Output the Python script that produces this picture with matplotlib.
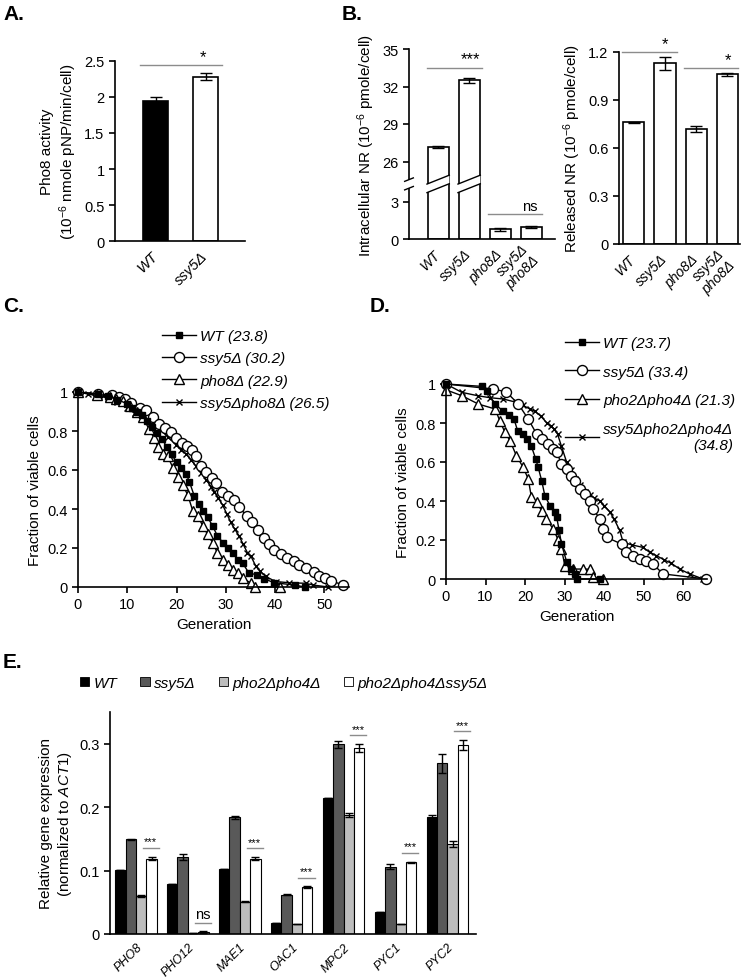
import numpy as np
import matplotlib
matplotlib.use("Agg")
import matplotlib.pyplot as plt
from matplotlib.patches import Patch, Polygon

plt.rcParams['font.family'] = ['Liberation Sans', 'DejaVu Sans']
plt.rcParams['mathtext.fontset'] = 'custom'
plt.rcParams['mathtext.rm'] = 'Liberation Sans'
plt.rcParams['mathtext.it'] = 'Liberation Sans:italic'
plt.rcParams['mathtext.bf'] = 'Liberation Sans:bold'
plt.rcParams['font.size'] = 10
plt.rcParams['axes.linewidth'] = 1.2
plt.rcParams['xtick.major.width'] = 1.2
plt.rcParams['ytick.major.width'] = 1.2
plt.rcParams['xtick.major.size'] = 4
plt.rcParams['ytick.major.size'] = 4

W, H = 745, 978

# ---- A: Pho8 activity ----
a_strains = ['WT', 'ssy5Δ']
a_activity = [1.95, 2.28]
a_err = [0.05, 0.05]

# ---- B: NR levels ----
b_strains = ['WT', 'ssy5Δ', 'pho8Δ', 'ssy5Δ\npho8Δ']
b_intra = [27.2, 32.5, 0.8, 0.95]
b_intra_err = [0.08, 0.2, 0.12, 0.06]
b_released = [0.76, 1.13, 0.72, 1.06]
b_released_err = [0.005, 0.04, 0.02, 0.01]

# ---- C: lifespan ----
c_labels = ['WT (23.8)', 'ssy5Δ (30.2)', 'pho8Δ (22.9)', 'ssy5Δpho8Δ (26.5)']
c_wt_gen = [0, 4, 6, 8, 10, 11, 12, 13, 14, 15, 16, 17, 18, 19, 20, 21, 22, 22.6, 23.6, 24.5,
            25.3, 26.3, 27.3, 28.3, 29.4, 30.4, 31.4, 32.4, 33.4, 34.7, 36.4, 37.8, 39.8, 44, 46]
c_wt_frac = [1.0, 0.99, 0.98, 0.96, 0.94, 0.92, 0.9, 0.88, 0.85, 0.82, 0.79, 0.76, 0.72, 0.68,
             0.64, 0.61, 0.578, 0.54, 0.467, 0.427, 0.392, 0.358, 0.314, 0.262, 0.228, 0.2,
             0.175, 0.14, 0.123, 0.071, 0.0625, 0.042, 0.022, 0.01, 0.0]
c_ssy5_gen = [0, 4, 6.8, 8.3, 9.5, 10.8, 12.5, 13.9, 15.2, 16.4, 17.7, 18.9, 19.9, 21.1, 22.2,
              23.1, 24.0, 25.0, 26.0, 27.1, 28.0, 29.2, 30.4, 31.7, 32.7, 34.2, 35.4, 36.6, 37.8,
              38.8, 39.8, 41.1, 42.5, 43.8, 44.8, 46.2, 47.9, 49.0, 50.1, 51.4, 53.7]
c_ssy5_frac = [1.0, 0.99, 0.985, 0.975, 0.965, 0.944, 0.92, 0.908, 0.87, 0.835, 0.814, 0.795,
               0.766, 0.736, 0.722, 0.705, 0.67, 0.618, 0.589, 0.557, 0.531, 0.488, 0.467, 0.444,
               0.41, 0.366, 0.332, 0.293, 0.25, 0.22, 0.1875, 0.167, 0.149, 0.132, 0.115, 0.097,
               0.075, 0.057, 0.045, 0.033, 0.01]
c_pho8_gen = [0, 3.8, 6.5, 7.8, 9.2, 10.5, 11.9, 13.2, 14.4, 15.4, 16.2, 17.2, 18.2, 19.3, 20.3,
              21.3, 22.3, 23.3, 24.3, 25.3, 26.3, 27.3, 28.3, 29.4, 30.4, 31.4, 32.4, 33.4, 35.1,
              36, 41]
c_pho8_frac = [1.0, 0.983, 0.974, 0.964, 0.953, 0.93, 0.896, 0.87, 0.81, 0.766, 0.72, 0.68, 0.67,
               0.61, 0.566, 0.522, 0.47, 0.39, 0.366, 0.314, 0.27, 0.228, 0.175, 0.14, 0.115,
               0.089, 0.071, 0.045, 0.02, 0.0, 0.0]
c_dbl_gen = [0, 2, 4, 6, 8, 10, 11.5, 13.2, 15, 16.6, 18.2, 19.9, 21, 22, 23, 24, 25, 26, 27, 27.7,
             28.5, 29.4, 30.2, 31, 31.8, 32.7, 33.5, 34.4, 35.1, 36.1, 37, 38.1, 40.1, 42.8, 46.2,
             47.7, 50.8]
c_dbl_frac = [1.0, 0.99, 0.98, 0.97, 0.95, 0.92, 0.89, 0.86, 0.835, 0.81, 0.77, 0.73, 0.705, 0.68,
              0.65, 0.618, 0.585, 0.55, 0.515, 0.488, 0.455, 0.418, 0.375, 0.332, 0.297, 0.262,
              0.22, 0.175, 0.158, 0.106, 0.08, 0.054, 0.028, 0.022, 0.019, 0.01, 0.0]

# ---- D: lifespan ----
d_labels = ['WT (23.7)', 'ssy5Δ (33.4)', 'pho2Δpho4Δ (21.3)', 'ssy5Δpho2Δpho4Δ\n(34.8)']
d_wt_gen = [0, 9.0, 10.3, 12.4, 14.3, 16, 17.2, 18.1, 19.5, 20.6, 21.6, 22.7, 23.3, 24.2, 25.0,
            26.3, 27.5, 28, 28.6, 29.2, 30.5, 31.7, 32.6, 33, 38.9]
d_wt_frac = [1.0, 0.988, 0.966, 0.897, 0.863, 0.84, 0.82, 0.761, 0.744, 0.718, 0.68, 0.615, 0.573,
             0.504, 0.427, 0.376, 0.342, 0.316, 0.25, 0.18, 0.089, 0.051, 0.026, 0.0, 0.0]
d_ssy5_gen = [0, 11.9, 15.2, 18.3, 20.8, 22.9, 24.2, 25.8, 27.1, 28.0, 29.2, 30.5, 31.5, 32.6,
              33.8, 35.1, 36.4, 37.2, 38.9, 39.7, 40.6, 44.4, 45.6, 47.3, 49.0, 50.7, 52.3, 54.9,
              65.8]
d_ssy5_frac = [1.0, 0.974, 0.96, 0.897, 0.82, 0.744, 0.718, 0.692, 0.667, 0.65, 0.59, 0.564, 0.53,
               0.504, 0.46, 0.436, 0.40, 0.359, 0.308, 0.256, 0.214, 0.179, 0.137, 0.12, 0.103,
               0.094, 0.077, 0.026, 0.0]
d_pho24_gen = [0, 4.0, 8.2, 12.4, 13.6, 14.9, 16.2, 17.8, 19.5, 20.8, 21.6, 22.9, 24.2, 25.4,
               27.1, 28.4, 29.2, 30.1, 32.1, 34.7, 36.4, 37.2, 39.7]
d_pho24_frac = [0.97, 0.94, 0.897, 0.872, 0.812, 0.752, 0.709, 0.632, 0.573, 0.513, 0.419, 0.393,
                0.35, 0.308, 0.256, 0.2, 0.154, 0.065, 0.051, 0.051, 0.05, 0.009, 0.0]
d_tri_gen = [0, 4, 8, 11, 14.5, 17.8, 19.5, 21.2, 22.5, 24, 25.5, 26.5, 27.3, 28.2, 29.2, 30.5,
             31.5, 32.6, 34, 35.1, 36.4, 37.5, 38.9, 40, 41.4, 42.5, 43.9, 44.8, 47, 49.8, 51.5,
             53.2, 55, 57, 59.1, 61.6, 65]
d_tri_frac = [1.0, 0.957, 0.94, 0.93, 0.923, 0.906, 0.89, 0.872, 0.86, 0.835, 0.8, 0.786, 0.77,
              0.744, 0.68, 0.6, 0.56, 0.513, 0.48, 0.445, 0.43, 0.415, 0.40, 0.376, 0.345, 0.308,
              0.25, 0.188, 0.175, 0.162, 0.137, 0.12, 0.1, 0.08, 0.051, 0.026, 0.0]

# ---- E: gene expression ----
e_genes = ['PHO8', 'PHO12', 'MAE1', 'OAC1', 'MPC2', 'PYC1', 'PYC2']
e_series = ['WT', 'ssy5Δ', 'pho2Δpho4Δ', 'pho2Δpho4Δssy5Δ']
e_wt = [0.101, 0.079, 0.103, 0.017, 0.214, 0.035, 0.184]
e_ssy5 = [0.149, 0.121, 0.184, 0.062, 0.299, 0.106, 0.269]
e_pho24 = [0.060, 0.002, 0.051, 0.016, 0.188, 0.016, 0.142]
e_triple = [0.119, 0.003, 0.119, 0.074, 0.293, 0.113, 0.298]
e_wt_err = [0.0, 0.0, 0.0, 0.0, 0.0, 0.0, 0.003]
e_ssy5_err = [0.001, 0.005, 0.002, 0.001, 0.006, 0.004, 0.015]
e_pho24_err = [0.001, 0.0, 0.001, 0.0, 0.003, 0.0, 0.005]
e_triple_err = [0.003, 0.001, 0.002, 0.001, 0.006, 0.001, 0.008]
e_sig = ['***', 'ns', '***', '***', '***', '***', '***']

fig = plt.figure(figsize=(W / 100, H / 100), dpi=100)


def px_axes(l, t, r, b):
    return fig.add_axes([l / W, 1 - b / H, (r - l) / W, (b - t) / H])


def clean(ax):
    ax.spines['top'].set_visible(False)
    ax.spines['right'].set_visible(False)
    ax.tick_params(direction='out', labelsize=10.5)


def strain_ticks(ax, labels, fs=10.5):
    ax.set_xticks(np.arange(len(labels)))
    ax.set_xticklabels(labels, rotation=45, ha='right', va='center', rotation_mode='anchor',
                       style='italic', fontsize=fs, multialignment='right')
    ax.tick_params(axis='x', length=0, pad=9)


def sig(ax, x0, x1, y, text, tx, ty, fs=12):
    ax.plot([x0, x1], [y, y], color='#8c8c8c', lw=1, clip_on=False)
    ax.text(tx, ty, text, ha='center', va='bottom', fontsize=fs)


err_kw = dict(lw=1, capthick=1, ecolor='black')

# panel A
ax = px_axes(115, 62, 245, 242)
clean(ax)
ax.bar(np.arange(2), a_activity, width=0.5, color=['black', 'white'], edgecolor='black',
       lw=1.2, yerr=a_err, capsize=4, error_kw=err_kw)
ax.set_xlim(-0.81, 1.79)
ax.set_ylim(0, 2.5)
ax.set_yticks([0, 0.5, 1, 1.5, 2, 2.5])
ax.set_yticklabels(['0', '0.5', '1', '1.5', '2', '2.5'])
strain_ticks(ax, a_strains)
ax.set_ylabel('Pho8 activity\n(10$^{-6}$ nmole pNP/min/cell)', fontsize=11)
sig(ax, -0.31, 1.33, 2.45, '*', 0.95, 2.46)

# panel B left (broken axis)
LO, HI = 4.5, 24.3


def fwd(y):
    y = np.asarray(y, float)
    return np.where(y <= LO, y, np.where(y >= HI, y - (HI - LO), LO))


def inv(y):
    y = np.asarray(y, float)
    return np.where(y <= LO, y, y + (HI - LO))


ax = px_axes(409, 50, 555, 240)
clean(ax)
ax.set_yscale('function', functions=(fwd, inv))
ax.bar(np.arange(4), b_intra, width=0.68, color='white', edgecolor='black', lw=1.2,
       yerr=b_intra_err, capsize=4, error_kw=err_kw)
ax.set_xlim(-0.94, 3.77)
ax.set_ylim(0, 35)
ax.set_yticks([0, 3, 26, 29, 32, 35])
ax.set_yticklabels(['0', '3', '26', '29', '32', '35'])
strain_ticks(ax, b_strains, fs=10)
ax.set_ylabel('Intracellular NR (10$^{-6}$ pmole/cell)', fontsize=11)
sig(ax, -0.35, 1.4, 33.5, '***', 1.05, 33.6)
sig(ax, 1.6, 3.35, 2.0, 'ns', 2.95, 2.1, fs=10.5)
tr = ax.get_xaxis_transform()
s, g, yc = 0.065, 0.045, 0.29
for xa, xb in [(-1.08, -0.80), (-0.36, 0.36), (0.64, 1.36)]:
    xm = (xa + xb) / 2
    lo_a = yc - g / 2 + s * (xa - xm)
    lo_b = yc - g / 2 + s * (xb - xm)
    ax.add_patch(Polygon([(xa, lo_a), (xb, lo_b), (xb, lo_b + g), (xa, lo_a + g)],
                         closed=True, transform=tr, facecolor='white', edgecolor='none',
                         zorder=5, clip_on=False))
    for off in (0, g):
        ax.plot([xa, xb], [lo_a + off, lo_b + off], transform=tr, color='black', lw=1,
                zorder=6, clip_on=False)

# panel B right
ax = px_axes(619, 53, 740, 245)
clean(ax)
ax.bar(np.arange(4), b_released, width=0.68, color='white', edgecolor='black', lw=1.2,
       yerr=b_released_err, capsize=4, error_kw=err_kw)
ax.set_xlim(-0.47, 3.4)
ax.set_ylim(0, 1.2)
ax.set_yticks([0, 0.3, 0.6, 0.9, 1.2])
ax.set_yticklabels(['0', '0.3', '0.6', '0.9', '1.2'])
strain_ticks(ax, b_strains, fs=10)
ax.set_ylabel('Released NR (10$^{-6}$ pmole/cell)', fontsize=11)
sig(ax, -0.37, 1.37, 1.2, '*', 1.0, 1.205)
sig(ax, 1.6, 3.34, 1.1, '*', 3.0, 1.105)


def survival(ax, gen, frac, marker, ms, mfc):
    line, = ax.plot(gen, frac, color='black', lw=1, marker=marker, ms=ms, mfc=mfc,
                    mec='black', mew=1, clip_on=False)
    return line


def lifespan_axes(ax, xmax, xticks):
    clean(ax)
    ax.set_xlim(0, xmax)
    ax.set_ylim(0, 1)
    ax.set_xticks(xticks)
    ax.set_yticks([0, 0.2, 0.4, 0.6, 0.8, 1])
    ax.set_yticklabels(['0', '0.2', '0.4', '0.6', '0.8', '1'])
    ax.set_xlabel('Generation', fontsize=11)
    ax.set_ylabel('Fraction of viable cells', fontsize=11)


# panel C
ax = px_axes(78, 393, 349, 588)
lifespan_axes(ax, 55, [0, 10, 20, 30, 40, 50])
h_dbl = survival(ax, c_dbl_gen, c_dbl_frac, 'x', 5, 'none')
h_ssy5 = survival(ax, c_ssy5_gen, c_ssy5_frac, 'o', 7.2, 'white')
h_pho8 = survival(ax, c_pho8_gen, c_pho8_frac, '^', 7, 'white')
h_wt = survival(ax, c_wt_gen, c_wt_frac, 's', 5, 'black')
fig.legend([h_wt, h_ssy5, h_pho8, h_dbl], c_labels, loc='upper left',
           bbox_to_anchor=(162 / W, 1 - 330 / H), frameon=False, handlelength=2.2,
           handletextpad=0.3, labelspacing=0.55, prop=dict(style='italic', size=11),
           borderpad=0, borderaxespad=0)

# panel D
ax = px_axes(446, 385, 707, 580)
lifespan_axes(ax, 66, [0, 10, 20, 30, 40, 50, 60])
h_tri = survival(ax, d_tri_gen, d_tri_frac, 'x', 5, 'none')
h_ssy5 = survival(ax, d_ssy5_gen, d_ssy5_frac, 'o', 7.2, 'white')
h_pho24 = survival(ax, d_pho24_gen, d_pho24_frac, '^', 7, 'white')
h_wt = survival(ax, d_wt_gen, d_wt_frac, 's', 5, 'black')
leg = fig.legend([h_wt, h_ssy5, h_pho24, h_tri], d_labels, loc='upper left',
                 bbox_to_anchor=(565 / W, 1 - 337 / H), frameon=False, handlelength=2.2,
                 handletextpad=0.3, labelspacing=0.95, prop=dict(style='italic', size=11),
                 borderpad=0, borderaxespad=0)
leg.get_texts()[3].set_multialignment('right')

# panel E
ax = px_axes(110, 713, 476, 935)
clean(ax)
x = np.arange(len(e_genes))
e_vals = [e_wt, e_ssy5, e_pho24, e_triple]
e_errs = [e_wt_err, e_ssy5_err, e_pho24_err, e_triple_err]
e_colors = ['black', '#595959', '#bdbdbd', 'white']
handles = []
for k, off in enumerate([-0.3, -0.1, 0.1, 0.3]):
    ax.bar(x + off, e_vals[k], width=0.2, color=e_colors[k], edgecolor='black', lw=0.8,
           yerr=e_errs[k], capsize=3, error_kw=err_kw)
    handles.append(Patch(facecolor=e_colors[k], edgecolor='black', lw=0.6))
ax.set_xlim(-0.5, 6.55)
ax.set_ylim(0, 0.35)
ax.set_yticks([0, 0.1, 0.2, 0.3])
ax.set_yticklabels(['0', '0.1', '0.2', '0.3'])
ax.set_xticks(x)
ax.set_xticklabels(e_genes, rotation=45, ha='right', rotation_mode='anchor', style='italic',
                   fontsize=9)
ax.tick_params(axis='x', length=0, pad=5)
ax.set_ylabel('Relative gene expression\n(normalized to $\\mathit{ACT1}$)', fontsize=11)
for i, lab in enumerate(e_sig):
    y = e_triple[i] + e_triple_err[i] + 0.014
    ax.plot([i + 0.13, i + 0.44], [y, y], color='#8c8c8c', lw=1)
    ax.text(i + 0.285, y + 0.002, lab, ha='center', va='bottom',
            fontsize=8 if lab == '***' else 10.5)
fig.legend(handles, e_series, loc='center left', bbox_to_anchor=(80 / W, 1 - 684 / H),
           ncol=4, frameon=False, handlelength=0.6, handleheight=0.6, handletextpad=0.3,
           columnspacing=1.5, prop=dict(style='italic', size=11), borderpad=0,
           borderaxespad=0)

# panel letters
for lab, px, py in [('A.', 3, 14), ('B.', 342, 14), ('C.', 3, 307), ('D.', 370, 307),
                    ('E.', 3, 662)]:
    fig.text(px / W, 1 - py / H, lab, fontsize=15, fontweight='bold', va='center', ha='left')

fig.savefig('out.png', dpi=100)
